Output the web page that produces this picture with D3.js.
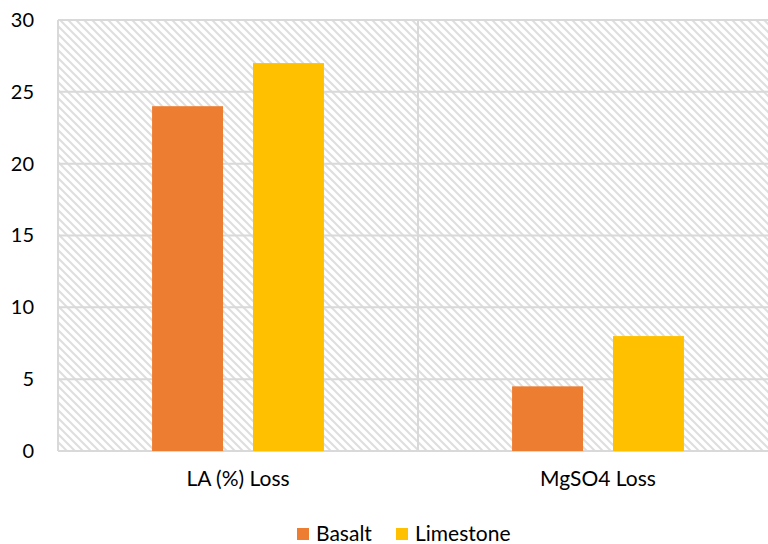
<!DOCTYPE html>
<html>
<head>
<meta charset="utf-8">
<script src="https://cdn.jsdelivr.net/npm/d3@7"></script>
<style>
  html, body { margin: 0; padding: 0; background: #fff; }
  svg { display: block; font-family: Lato, "Open Sans", sans-serif; }
</style>
</head>
<body>
<svg id="chart" width="768" height="544"></svg>
<script>
// Test results per aggregate type
const categories = ["LA (%) Loss", "MgSO4 Loss"];
const seriesNames = ["Basalt", "Limestone"];
const basalt = [24, 4.5];
const limestone = [27, 8];
const yTicks = [0, 5, 10, 15, 20, 25, 30];
const colors = ["#ED7D31", "#FFC000"];

const svg = d3.select("#chart");
const margin = { left: 58, top: 20, right: -10, bottom: 93 };
const W = 768, H = 544;
const x0 = margin.left, x1 = W - margin.right;
const yTop = margin.top, yBot = H - margin.bottom;

const x = d3.scaleBand().domain(categories).range([x0, x1]).paddingInner(0).paddingOuter(0);
const xs = d3.scaleBand().domain(seriesNames).range([0, x.bandwidth()]).paddingInner(0.297).paddingOuter(0.932);
const y = d3.scaleLinear().domain([0, 30]).range([yBot, yTop]);

// diagonal hatch fill for the plot area
const defs = svg.append("defs");
const pat = defs.append("pattern")
  .attr("id", "hatch").attr("patternUnits", "userSpaceOnUse")
  .attr("width", 8).attr("height", 8);
pat.append("rect").attr("width", 8).attr("height", 8).attr("fill", "#fff");
pat.append("path")
  .attr("d", "M-2,-2 L10,10 M-2,6 L2,10 M6,-2 L10,2")
  .attr("stroke", "#dedede").attr("stroke-width", 2);

svg.append("rect")
  .attr("x", x0).attr("y", yTop)
  .attr("width", x1 - x0).attr("height", yBot - yTop)
  .attr("fill", "url(#hatch)");

// horizontal gridlines
svg.append("g").selectAll("line").data(yTicks).join("line")
  .attr("x1", x0).attr("x2", x1)
  .attr("y1", d => y(d)).attr("y2", d => y(d))
  .attr("stroke", "#d9d9d9").attr("stroke-width", 2);

// vertical category boundaries
const bounds = [x0, ...categories.slice(1).map(c => x(c))];
svg.append("g").selectAll("line").data(bounds).join("line")
  .attr("x1", d => d).attr("x2", d => d)
  .attr("y1", yTop).attr("y2", yBot)
  .attr("stroke", "#d9d9d9").attr("stroke-width", 2);

// bars
const seriesData = [basalt, limestone];
seriesNames.forEach((s, i) => {
  svg.append("g").selectAll("rect").data(categories).join("rect")
    .attr("x", c => x(c) + xs(s))
    .attr("width", xs.bandwidth())
    .attr("y", (c, j) => y(seriesData[i][j]))
    .attr("height", (c, j) => yBot - y(seriesData[i][j]))
    .attr("fill", colors[i]);
});

// y axis labels
const yAxis = d3.axisLeft(y).tickValues(yTicks).tickSize(0).tickPadding(24);
const gy = svg.append("g").attr("transform", `translate(${x0},0)`).call(yAxis);
gy.select(".domain").remove();
gy.selectAll("text").attr("font-size", 20).attr("fill", "#000")
  .style("font-family", "Lato, sans-serif");

// x axis labels
const xAxis = d3.axisBottom(x).tickSize(0).tickPadding(20);
const gx = svg.append("g").attr("transform", `translate(0,${yBot})`).call(xAxis);
gx.select(".domain").remove();
gx.selectAll("text").attr("font-size", 21).attr("fill", "#000")
  .style("font-family", "Lato, sans-serif");

// legend
const legend = svg.append("g").attr("transform", "translate(297,534)");
const legendX = [0, 99];
seriesNames.forEach((s, i) => {
  const g = legend.append("g").attr("transform", `translate(${legendX[i]},0)`);
  g.append("rect").attr("x", 0).attr("y", -6).attr("width", 12).attr("height", 12).attr("fill", colors[i]);
  g.append("text").attr("x", 19).attr("y", 0).attr("dy", "0.35em")
    .attr("font-size", 21).attr("fill", "#000").text(s);
});
</script>
</body>
</html>
